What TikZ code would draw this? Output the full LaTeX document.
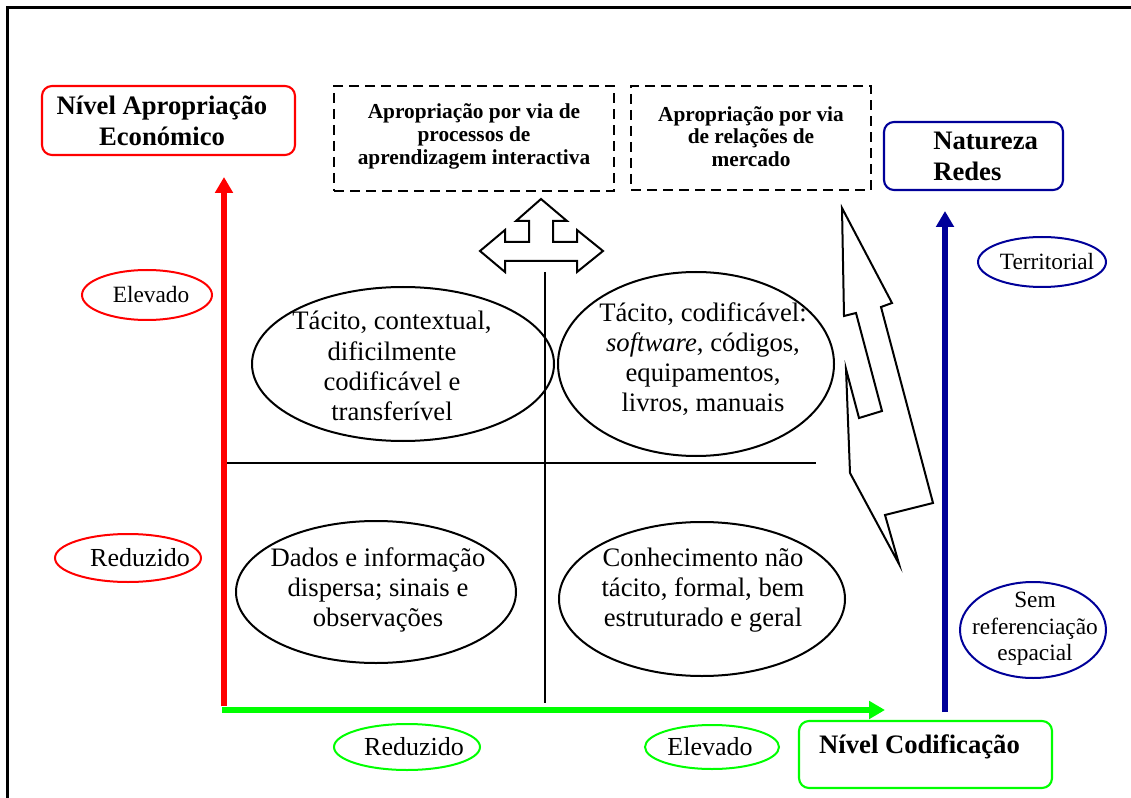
\documentclass[tikz,border=0pt]{standalone}
\usepackage{fontspec}
\setmainfont{Liberation Serif}
\usetikzlibrary{arrows.meta,shapes.geometric}
\definecolor{axisred}{RGB}{255,0,0}
\definecolor{axisgreen}{RGB}{0,255,0}
\definecolor{axisblue}{RGB}{0,0,153}

\begin{document}
\begin{tikzpicture}[x=0.75pt,y=-0.75pt,
  quadell/.style={ellipse, draw, line width=1.5pt, inner sep=0pt},
  quadtext/.style={align=center, inner sep=0pt, font=\fontsize{20}{22.6}\selectfont},
  tagell/.style={ellipse, draw=#1, line width=1.5pt, inner sep=0pt},
  tagtext/.style={align=center, inner sep=0pt, font=\fontsize{19.5}{22}\selectfont},
  smalltag/.style={align=center, inner sep=0pt, font=\fontsize{17.5}{20}\selectfont},
  roundbox/.style={draw=#1, rounded corners=7.5pt, line width=1.6pt, inner sep=0pt},
  dashbox/.style={draw, dashed, dash pattern=on 7.5pt off 4.5pt, line width=1.9pt, inner sep=0pt},
  headtext/.style={align=center, inner sep=0pt, font=\bfseries\fontsize{20}{23.2}\selectfont},
  dashtext/.style={align=center, inner sep=0pt, font=\bfseries\fontsize{16}{17}\selectfont},
  axisarrow/.style={line width=4.2pt, draw=#1, -{Triangle[length=12pt,width=13pt,fill=#1]}},
  divider/.style={line width=1.9pt},
  outline/.style={draw, fill=white, line width=1.5pt, line join=miter}
]
\useasboundingbox (0,0) rectangle (1131,798);
\clip (0,0) rectangle (1131,798);

% outer frame
\draw[line width=2pt] (7.5,7.5) rectangle (1150,820);

% header boxes
\node[roundbox=axisred, minimum width=189.75pt, minimum height=51.75pt] (apropBox) at (168.5,120.5) {};
\node[headtext] (apropText) at (162,121) {Nível Apropriação\\Económico};

\node[dashbox, minimum width=210pt, minimum height=78.75pt] (learnBox) at (474,138.5) {};
\node[dashtext] (learnText) at (474,136.5) {Apropriação por via de\\processos de\\aprendizagem interactiva};

\node[dashbox, minimum width=180pt, minimum height=78pt] (marketBox) at (751,138) {};
\node[dashtext] (marketText) at (751,136.5) {Apropriação por via\\de relações de\\mercado};

\node[roundbox=axisblue, minimum width=134.25pt, minimum height=51pt] (netBox) at (973.5,156) {};
\node[headtext, align=left, anchor=west] (netText) at (933,156) {Natureza\\Redes};

\node[roundbox=axisgreen, minimum width=189.75pt, minimum height=50.25pt] (codBox) at (925.5,754.5) {};
\node[headtext] (codText) at (919.5,747) {Nível Codificação};

% quadrant dividers
\coordinate (hLeft) at (222,463);
\coordinate (hRight) at (816,463);
\coordinate (vTop) at (545,272);
\coordinate (vBottom) at (545,703);
\draw[divider] (hLeft) -- (hRight);
\draw[divider] (vTop) -- (vBottom);

% quadrant ellipses
\node[quadell, minimum width=226.5pt, minimum height=115.5pt] (tacitCtx) at (403,364) {};
\node[quadtext] (tacitCtxText) at (392,366) {Tácito, contextual,\\dificilmente\\codificável e\\transferível};

\node[quadell, minimum width=207pt, minimum height=138pt] (tacitCod) at (696,364) {};
\node[quadtext] (tacitCodText) at (703,359) {Tácito, codificável:\\\textit{software}, códigos,\\equipamentos,\\livros, manuais};

\node[quadell, minimum width=210pt, minimum height=106.5pt] (dados) at (376,592) {};
\node[quadtext] (dadosText) at (378,590) {Dados e informação\\dispersa; sinais e\\observações};

\node[quadell, minimum width=214.5pt, minimum height=115.5pt] (formal) at (702,599) {};
\node[quadtext] (formalText) at (703,590) {Conhecimento não\\tácito, formal, bem\\estruturado e geral};

% axis arrows
\coordinate (redFoot) at (224,706);
\coordinate (redHead) at (224,177);
\coordinate (greenFoot) at (222,710);
\coordinate (greenHead) at (885,710);
\coordinate (blueFoot) at (945,712);
\coordinate (blueHead) at (945,211);
\draw[axisarrow=axisred] (redFoot) -- (redHead);
\draw[axisarrow=axisgreen] (greenFoot) -- (greenHead);
\draw[axisarrow=axisblue] (blueFoot) -- (blueHead);

% level tags
\node[tagell=axisred, minimum width=97.5pt, minimum height=37.5pt] (redHigh) at (147,295) {};
\node[smalltag] (redHighText) at (151,295) {Elevado};
\node[tagell=axisred, minimum width=109.5pt, minimum height=36pt] (redLow) at (128,558) {};
\node[tagtext] (redLowText) at (140,558) {Reduzido};
\node[tagell=axisgreen, minimum width=109.5pt, minimum height=34.5pt] (greenLow) at (407,747) {};
\node[tagtext] (greenLowText) at (414,747) {Reduzido};
\node[tagell=axisgreen, minimum width=100.5pt, minimum height=33pt] (greenHigh) at (712,747) {};
\node[tagtext] (greenHighText) at (710,747) {Elevado};
\node[tagell=axisblue, minimum width=96pt, minimum height=37.5pt] (blueHigh) at (1042,262) {};
\node[smalltag] (blueHighText) at (1047,262) {Territorial};
\node[tagell=axisblue, minimum width=109.5pt, minimum height=72pt] (blueLow) at (1033,630) {};
\node[smalltag] (blueLowText) at (1035,629) {Sem\\referenciação\\espacial};

% three-way block arrow
\draw[outline] (541,199) -- (567,221) -- (553,221) -- (553,242) -- (577,242) -- (577,230)
  -- (603,251) -- (577,272) -- (577,261) -- (505,261) -- (505,272) -- (480,251)
  -- (505,230) -- (505,242) -- (529,242) -- (529,221) -- (516,221) -- cycle;

% zigzag block arrow
\draw[outline] (842,208) -- (892,303) -- (881,307) -- (933,503) -- (885,515) -- (899,564)
  -- (850,473) -- (846,369) -- (859,418) -- (882,411) -- (856,313) -- (844,316) -- cycle;
\end{tikzpicture}
\end{document}
